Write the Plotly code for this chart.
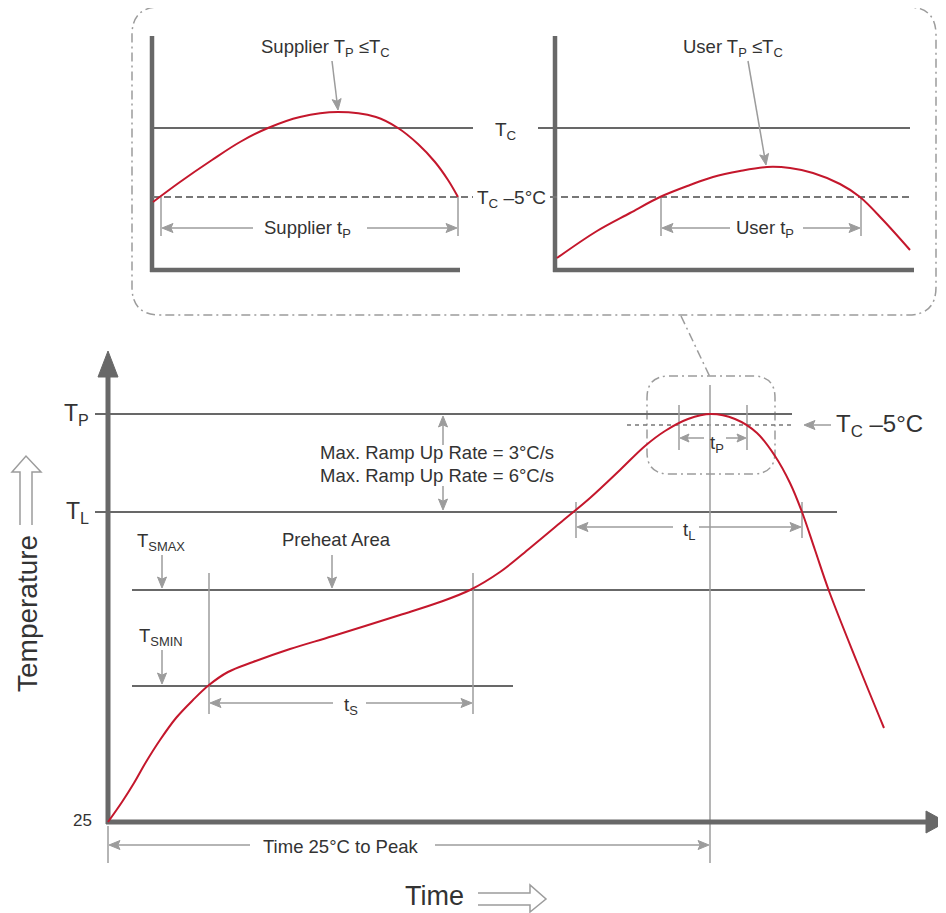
import math
import plotly.graph_objects as go

W, H = 946, 913
PAGE_MARGIN = 8  # browser body margin; the figure is sized to fill the rest of the window

# ---------------- data (canvas units: x to the right, y downward) ----------------
# main reflow profile
profile_x = [108, 122, 134, 146, 160, 176, 193, 209, 228, 253, 290, 333, 400, 440, 470, 500,
             530, 560, 590, 620, 645, 665, 688, 711, 735, 757, 775, 790, 802, 815, 829, 857, 884]
profile_y = [822, 802, 783, 762, 740, 718, 700, 685, 672, 662, 649, 636, 615, 602, 590, 572,
             548, 523, 498, 470, 446, 431, 419, 414, 419, 433, 456, 483, 512, 550, 591, 662, 728]

# inset: supplier profile
supplier_x = [153, 180, 212, 240, 268, 300, 338, 376, 398, 418, 435, 448, 458]
supplier_y = [202, 182, 160, 142, 128, 117, 112, 117, 128, 144, 162, 180, 197]

# inset: user profile
user_x = [557, 597, 630, 660, 690, 713, 740, 767, 790, 813, 840, 860, 883, 910]
user_y = [258, 231, 213, 197, 185, 177, 171, 167, 168, 173, 184, 197, 220, 250]

# temperature levels of the main chart
level_labels = ["T<sub>P</sub>", "T<sub>L</sub>"]
level_y = [414, 512]
soak_y = [590, 686]          # T_SMAX, T_SMIN
tc_minus5_y = 425
inset_tc_y = 128
inset_tc5_y = 197

RED = "#c4172c"
DARK = "#686868"
LIGHT = "#9c9c9c"
TEXT = "#333333"
FONT = "Liberation Sans, Arial, Helvetica, sans-serif"
BASE = 18.5

fig = go.Figure()


def seg(x0, y0, x1, y1, color=DARK, width=2, dash=None):
    fig.add_shape(type="line", x0=x0, y0=y0, x1=x1, y1=y1, xref="x", yref="y",
                  line=dict(color=color, width=width, dash=dash), layer="below")


def path(d, color=DARK, width=1.5, dash=None, fill=None, layer="below"):
    fig.add_shape(type="path", path=d, xref="x", yref="y",
                  line=dict(color=color, width=width, dash=dash),
                  fillcolor=fill if fill else "rgba(0,0,0,0)", layer=layer)


def arrow(xt, yt, xs, ys, color=LIGHT, width=1.5, head=11.0, half=4.5):
    dx, dy = xt - xs, yt - ys
    n = math.hypot(dx, dy)
    ux, uy = dx / n, dy / n
    px, py = -uy, ux
    bx, by = xt - head * ux, yt - head * uy
    nx, ny = xt - 0.8 * head * ux, yt - 0.8 * head * uy
    seg(xs, ys, nx, ny, color=color, width=width)
    d = (f"M {xt:.2f},{yt:.2f} L {bx + half * px:.2f},{by + half * py:.2f} "
         f"L {nx:.2f},{ny:.2f} L {bx - half * px:.2f},{by - half * py:.2f} Z")
    path(d, color=color, width=1, fill=color, layer="above")


def label(x, y, text, size=BASE, xanchor="center", angle=0, color=TEXT):
    fig.add_annotation(x=x, y=y, text=text, showarrow=False, xref="x", yref="y",
                       xanchor=xanchor, yanchor="middle", textangle=angle,
                       font=dict(family=FONT, size=size, color=color))


# ---------------- callout boxes ----------------
BOXDASH = "9px,4px,2px,4px"
path("M 160,7 L 908,7 Q 936,7 936,35 L 936,287 Q 936,315 908,315 L 160,315 "
     "Q 132,315 132,287 L 132,35 Q 132,7 160,7 Z", color=LIGHT, width=1.5, dash=BOXDASH)
path("M 669,376 L 753,376 Q 775,376 775,398 L 775,452 Q 775,474 753,474 L 669,474 "
     "Q 647,474 647,452 L 647,398 Q 647,376 669,376 Z", color=LIGHT, width=1.5, dash=BOXDASH)
seg(681, 316, 710, 377, color=LIGHT, width=1.5, dash=BOXDASH)

# ---------------- inset axes & levels ----------------
seg(152, 36, 152, 272, width=4.5)
seg(150, 270, 460, 270, width=4.5)
seg(555, 36, 555, 272, width=4.5)
seg(553, 270, 914, 270, width=4.5)
seg(153, inset_tc_y, 473, inset_tc_y, width=2)
seg(538, inset_tc_y, 910, inset_tc_y, width=2)
seg(153, inset_tc5_y, 473, inset_tc5_y, color="#777777", width=2, dash="7px,4px")
seg(550, inset_tc5_y, 910, inset_tc5_y, color="#777777", width=2, dash="7px,4px")
for xv in (161, 458, 661, 861):
    seg(xv, inset_tc5_y, xv, 236, color=LIGHT, width=1.5)

# ---------------- main levels ----------------
seg(95, level_y[0], 792, level_y[0], width=2)
seg(95, level_y[1], 837, level_y[1], width=2)
seg(132, soak_y[0], 865, soak_y[0], width=2)
seg(132, soak_y[1], 513, soak_y[1], width=2)
seg(627, tc_minus5_y, 792, tc_minus5_y, color="#777777", width=1.5, dash="4px,4px")

# dimension ticks
seg(209, 573, 209, 714, color=LIGHT, width=1.5)
seg(473, 573, 473, 714, color=LIGHT, width=1.5)
seg(576, 502, 576, 538, color=LIGHT, width=1.5)
seg(802, 502, 802, 538, color=LIGHT, width=1.5)
seg(679, 405, 679, 450, color=LIGHT, width=1.5)
seg(747, 405, 747, 450, color=LIGHT, width=1.5)
seg(710, 385, 710, 863, color=LIGHT, width=1.5)
seg(108, 826, 108, 863, color=LIGHT, width=1.5)

# main axes
seg(108, 374, 108, 824, width=5)
path("M 98,377 L 108,351 L 118,377 Z", color=DARK, width=1, fill=DARK)
seg(106, 822, 928, 822, width=5)
path("M 926,811 L 946,822 L 926,833 Z", color=DARK, width=1, fill=DARK)

# hollow direction arrows
path("M 20,525 L 20,472 L 12,472 L 26,456 L 41,472 L 32,472 L 32,525", color=LIGHT, width=1.5)
path("M 478,893 L 530,893 L 530,885 L 546,899 L 530,912 L 530,905 L 478,905", color=LIGHT, width=1.5)

# ---------------- curves ----------------
for xs, ys in ((profile_x, profile_y), (supplier_x, supplier_y), (user_x, user_y)):
    fig.add_trace(go.Scatter(x=xs, y=ys, mode="lines", hoverinfo="skip", showlegend=False,
                             line=dict(color=RED, width=2, shape="spline", smoothing=1.0)))

# ---------------- arrows ----------------
arrow(443, 416, 443, 445)
arrow(443, 510, 443, 486)
arrow(162, 588, 162, 555)
arrow(332, 588, 332, 555)
arrow(162, 684, 162, 650)
arrow(210, 703, 333, 703)
arrow(472, 703, 366, 703)
arrow(577, 527, 673, 527)
arrow(801, 527, 699, 527)
arrow(680, 438, 704, 438, head=9, half=4)
arrow(746, 438, 726, 438, head=9, half=4)
arrow(109, 845, 250, 845)
arrow(709, 845, 435, 845)
arrow(804, 425, 831, 425)
arrow(162, 228, 253, 228)
arrow(457, 228, 367, 228)
arrow(662, 228, 730, 228)
arrow(860, 228, 803, 228)
arrow(338, 110, 332, 61)
arrow(766, 165, 748, 61)

# ---------------- labels ----------------
label(91, level_y[0], level_labels[0], size=23, xanchor="right")
label(91, level_y[1], level_labels[1], size=23, xanchor="right")
label(94, 820, "25", size=17, xanchor="right")
label(437, 452, "Max. Ramp Up Rate = 3°C/s")
label(437, 475, "Max. Ramp Up Rate = 6°C/s")
label(161, 542, "T<sub>SMAX</sub>")
label(336, 539, "Preheat Area")
label(161, 637, "T<sub>SMIN</sub>")
label(351, 706, "t<sub>S</sub>")
label(689, 531, "t<sub>L</sub>")
label(717, 444, "t<sub>P</sub>")
label(341, 846, "Time 25°C to Peak")
label(834, 425, "T<sub>C</sub> –5°C", size=24, xanchor="left")
label(434, 896, "Time", size=27)
label(27, 614, "Temperature", size=28, angle=-90)
label(325, 48, "Supplier T<sub>P</sub> ≤T<sub>C</sub>")
label(733, 48, "User T<sub>P</sub> ≤T<sub>C</sub>")
label(506, 131, "T<sub>C</sub>", size=19)
label(511, 199, "T<sub>C</sub> –5°C", size=19)
label(307, 229, "Supplier t<sub>P</sub>")
label(765, 229, "User t<sub>P</sub>")

fig.update_layout(
    width=W - PAGE_MARGIN, height=H - PAGE_MARGIN, autosize=False,
    margin=dict(l=0, r=0, t=0, b=0, pad=0),
    paper_bgcolor="white", plot_bgcolor="white",
    xaxis=dict(range=[PAGE_MARGIN, W], visible=False, fixedrange=True, domain=[0, 1]),
    yaxis=dict(range=[H, PAGE_MARGIN], visible=False, fixedrange=True, domain=[0, 1]),
    showlegend=False,
)

fig.write_html("out.html")
